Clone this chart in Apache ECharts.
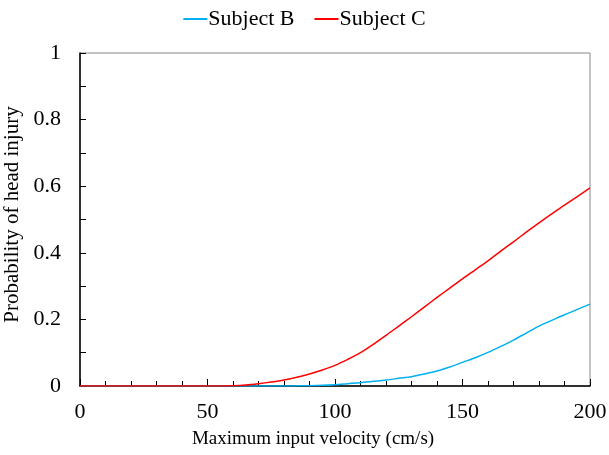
<!DOCTYPE html>
<html><head><meta charset="utf-8">
<script src="https://cdn.jsdelivr.net/npm/echarts@6/dist/echarts.min.js"></script>
<style>html,body{margin:0;padding:0;background:#fff}#c{width:609px;height:455px}</style>
</head><body><div id="c"></div>
<script>
const velocities = [0,10,20,30,40,50,60,65,70,75,80,85,90,95,100,105,110,115,120,125,130,135,140,145,150,155,160,165,170,175,180,185,190,195,200];
const subjectB = [0,0,0,0,0,0,0,0,0,0,0,0.0005,0.001,0.002,0.004,0.007,0.010,0.014,0.018,0.023,0.028,0.036,0.045,0.057,0.071,0.085,0.101,0.119,0.138,0.159,0.180,0.197,0.214,0.230,0.246];
const subjectC = [0,0,0,0,0,0,0.001,0.003,0.007,0.012,0.018,0.026,0.036,0.048,0.062,0.080,0.100,0.125,0.152,0.180,0.208,0.237,0.266,0.294,0.322,0.349,0.376,0.405,0.433,0.462,0.490,0.517,0.543,0.569,0.595];
const seriesNames = ['Subject B','Subject C'];
const colors = ['#00B0F0','#FF0000'];

const font = 'Liberation Serif';
const chart = echarts.init(document.getElementById('c'), null, {renderer:'canvas'});
const mk = (vals) => velocities.map((v,i)=>[v, vals[i]]);
chart.setOption({
  animation:false,
  textStyle:{fontFamily:font},
  legend:{
    top:3, left:'center', itemWidth:24, itemHeight:2, icon:'rect', itemGap:20,
    textStyle:{fontFamily:font, fontSize:22, color:'#000', padding:[0,0,0,-4]},
    data:seriesNames
  },
  grid:{left:80, right:19, top:53, bottom:69, show:true, borderColor:'#888', borderWidth:1, containLabel:false, outerBoundsMode:'none'},
  xAxis:{
    type:'value', min:0, max:200, interval:50,
    name:'Maximum input velocity (cm/s)', nameLocation:'middle', nameGap:44,
    nameTextStyle:{fontFamily:font, fontSize:19, color:'#000', padding:[0,44,0,0]},
    axisLine:{show:true, lineStyle:{color:'#000', width:1.5}},
    axisTick:{show:true, inside:true, length:7, lineStyle:{color:'#000'}},
    minorTick:{show:true, splitNumber:5, length:5, lineStyle:{color:'#000'}},
    axisLabel:{fontFamily:font, fontSize:22, color:'#000', margin:15},
    splitLine:{show:false}
  },
  yAxis:{
    type:'value', min:0, max:1, interval:0.2,
    name:'Probability of head injury', nameLocation:'middle', nameGap:52,
    nameTextStyle:{fontFamily:font, fontSize:21, color:'#000', padding:[0,0,0,10]},
    axisLine:{show:true, lineStyle:{color:'#000', width:1.5}},
    axisTick:{show:true, inside:true, length:6, lineStyle:{color:'#000'}},
    minorTick:{show:true, splitNumber:2, length:6, lineStyle:{color:'#000'}},
    axisLabel:{fontFamily:font, fontSize:22, color:'#000', margin:19,
      formatter:(v)=> (v===0||v===1)? String(v) : v.toFixed(1)},
    splitLine:{show:false}
  },
  series:[
    {name:seriesNames[0], type:'line', data:mk(subjectB), smooth:0.3, showSymbol:false, color:colors[0], lineStyle:{width:1.5, color:colors[0]}},
    {name:seriesNames[1], type:'line', data:mk(subjectC), smooth:0.3, showSymbol:false, color:colors[1], lineStyle:{width:1.5, color:colors[1]}}
  ]
});
</script></body></html>
